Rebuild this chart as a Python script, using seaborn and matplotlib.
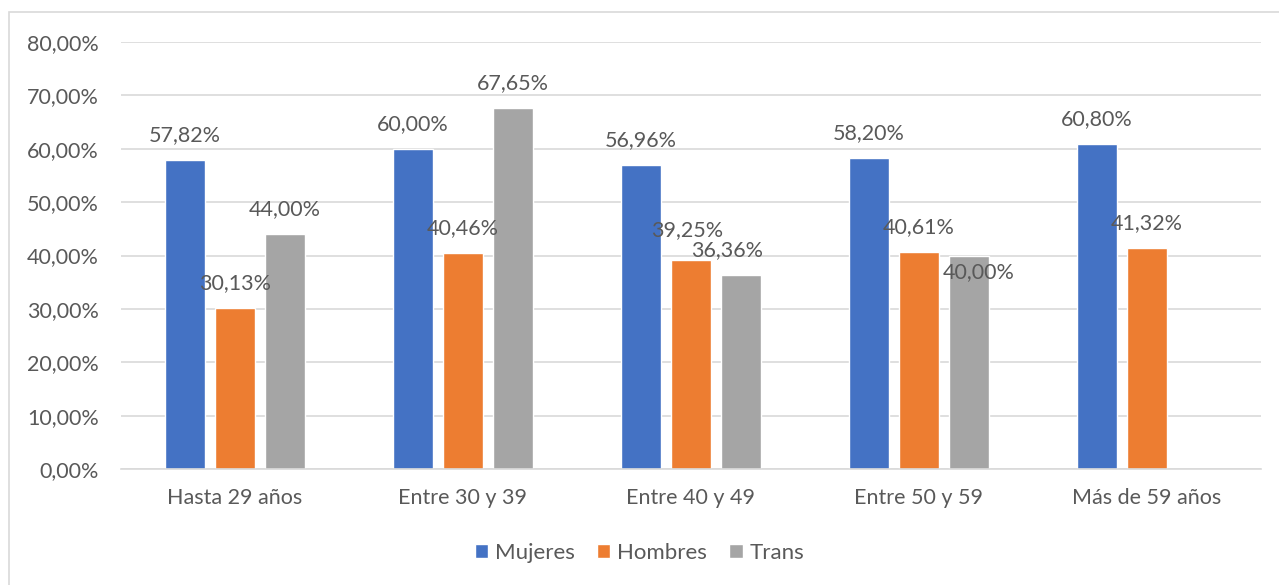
import numpy as np
import pandas as pd
import seaborn as sns
import matplotlib.pyplot as plt
from matplotlib.patches import Rectangle

categorias = ["Hasta 29 años", "Entre 30 y 39", "Entre 40 y 49", "Entre 50 y 59", "Más de 59 años"]
mujeres = [57.82, 60.00, 56.96, 58.20, 60.80]
hombres = [30.13, 40.46, 39.25, 40.61, 41.32]
trans = [44.00, 67.65, 36.36, 40.00, np.nan]
series = ["Mujeres", "Hombres", "Trans"]
colores = ["#4472C4", "#ED7D31", "#A5A5A5"]

df = pd.DataFrame({"cat": categorias, "Mujeres": mujeres, "Hombres": hombres, "Trans": trans})
df = df.melt(id_vars="cat", var_name="serie", value_name="valor")
df["valor"] = df["valor"] / 100

sns.set_style("white")
plt.rcParams["font.family"] = ["Lato", "DejaVu Sans"]
txt = "#595959"
fs = 15.5

fig = plt.figure(figsize=(12.79, 5.85), dpi=100)
ax = fig.add_axes([121 / 1279, 1 - 469 / 585, (1261 - 121) / 1279, (469 - 42) / 585])
fig.patches.append(Rectangle((9 / 1279, -0.1), 1.2, 1 - 12 / 585 + 0.1, transform=fig.transFigure,
                             fill=False, edgecolor="#d9d9d9", linewidth=1.2))

sns.barplot(data=df, x="cat", y="valor", hue="serie", hue_order=series, order=categorias,
            palette=colores, width=0.66, ax=ax, legend=True, saturation=1)

# bars in Excel are narrower than their slot
bw = 40 / 228
for p in ax.patches:
    if p.get_height() == 0 or np.isnan(p.get_height()):
        continue
    c = p.get_x() + p.get_width() / 2
    p.set_width(bw)
    p.set_x(c - bw / 2)

# data labels, a couple nudged as in the original
nudges = {("Trans", "Entre 40 y 49"): (-10, 0), ("Hombres", "Entre 40 y 49"): (-3, 3),
          ("Trans", "Entre 50 y 59"): (7, -30)}
for j, s in enumerate(series):
    vals = {"Mujeres": mujeres, "Hombres": hombres, "Trans": trans}[s]
    for i, v in enumerate(vals):
        if np.isnan(v):
            continue
        x = i + (j - 1) * 0.22
        dx, dy = nudges.get((s, categorias[i]), (0, 0))
        ax.annotate(f"{v:.2f}%".replace(".", ","), (x, v / 100), xytext=(dx, 18 + dy),
                    textcoords="offset points", ha="center", va="center", fontsize=fs, color=txt)

ax.set_ylim(0, 0.8)
ax.set_xlim(-0.5, 4.5)
ax.set_yticks(np.arange(0, 0.81, 0.1))
ax.set_yticklabels([f"{t * 100:.2f}%".replace(".", ",") for t in np.arange(0, 0.81, 0.1)])
ax.yaxis.grid(True, color="#d9d9d9", linewidth=1.2)
ax.set_axisbelow(True)
ax.tick_params(axis="both", labelsize=fs, colors=txt, length=0)
ax.tick_params(axis="y", pad=16)
ax.tick_params(axis="x", pad=14)
ax.set_xlabel("")
ax.set_ylabel("")
for sp in ["top", "right", "left"]:
    ax.spines[sp].set_visible(False)
ax.spines["bottom"].set_color("#d9d9d9")
ax.spines["bottom"].set_linewidth(1.2)

h, l = ax.get_legend_handles_labels()
ax.legend(h, l, loc="center", bbox_to_anchor=(0.5, (585 - 553) / 585), bbox_transform=fig.transFigure,
          ncol=3, frameon=False, fontsize=16, labelcolor=txt, handlelength=0.6, handleheight=0.6,
          handletextpad=0.3, columnspacing=1.0)

fig.savefig("out.png", dpi=100)
